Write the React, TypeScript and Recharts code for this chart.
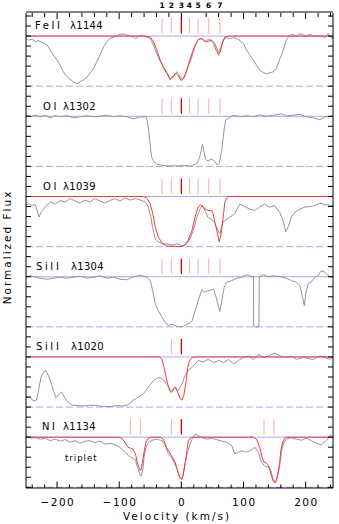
import { ComposedChart, Line, XAxis, YAxis, ReferenceLine } from "recharts";

// velocity components (km/s) and their labels on the top axis
const COMP_VEL = [-31, -16, 0, 13, 27, 44, 62];
const COMP_LABELS = ["1", "2", "3", "4", "5", "6", "7"];
const SI1020_MARKS = [-16, 0];
const NI_MARKS = [-82, -66, -16, 0, 133, 149];

const PANEL_IONS = ["FeII", "OI", "OI", "SiII", "SiII", "NI"];
const PANEL_LINES = ["λ1144", "λ1302", "λ1039", "λ1304", "λ1020", "λ1134"];

const X_MAJOR = [-200, -100, 0, 100, 200];
const X_TICKS = [-240, -220, -200, -180, -160, -140, -120, -100, -80, -60, -40, -20, 0, 20, 40, 60, 80, 100, 120, 140, 160, 180, 200, 220, 240];
const X_TICKS_TOP = X_TICKS.filter((v) => v !== 20);

// [velocity, normalized flux]
const FE1144 = [
  [-250, 0.95], [-246, 0.92], [-240, 0.94], [-235, 0.89], [-230, 0.91], [-224, 0.87], [-216, 0.82], [-211, 0.72],
  [-206, 0.62], [-200, 0.52], [-195, 0.42], [-190, 0.29], [-184, 0.19], [-179, 0.14], [-174, 0.09], [-168, 0.05],
  [-163, 0.09], [-157, 0.13], [-152, 0.18], [-147, 0.26], [-141, 0.36], [-136, 0.49], [-131, 0.62], [-125, 0.79],
  [-120, 0.89], [-115, 0.95], [-107, 0.99], [-101, 1.03], [-93, 1.04], [-88, 1.02], [-80, 1.0], [-74, 0.95],
  [-66, 1.02], [-58, 0.99], [-50, 0.95], [-45, 0.82], [-40, 0.66], [-34, 0.49], [-29, 0.39], [-24, 0.29],
  [-18, 0.14], [-13, 0.21], [-7, 0.29], [1, 0.13], [6, 0.23], [11, 0.39], [17, 0.59], [22, 0.79], [27, 0.93],
  [33, 0.95], [38, 0.89], [43, 0.93], [49, 0.92], [54, 0.85], [60, 0.67], [65, 0.82], [70, 0.97], [78, 0.95],
  [84, 0.97], [92, 0.93], [100, 0.85], [105, 0.72], [110, 0.62], [116, 0.52], [121, 0.42], [126, 0.32],
  [132, 0.27], [137, 0.25], [143, 0.27], [148, 0.29], [153, 0.36], [159, 0.56], [164, 0.72], [169, 0.93],
  [175, 1.02], [180, 1.03], [185, 1.0], [191, 1.05], [199, 1.0], [207, 1.03], [215, 0.99], [223, 1.01],
  [231, 0.97], [236, 1.05], [242, 0.95], [244, 0.98],
];
const FE1144_FIT = [
  [-250, 1], [-60, 1], [-50, 0.98], [-45, 0.89], [-40, 0.74], [-34, 0.52], [-29, 0.37], [-23, 0.25], [-18, 0.13],
  [-14, 0.17], [-9, 0.26], [-5, 0.21], [0, 0.11], [4, 0.16], [8, 0.3], [12, 0.46], [17, 0.65], [22, 0.82],
  [27, 0.93], [32, 0.95], [36, 0.92], [40, 0.88], [44, 0.9], [48, 0.91], [52, 0.85], [56, 0.72], [60, 0.62],
  [63, 0.7], [66, 0.88], [70, 0.98], [75, 1], [244, 1],
];

const OI1302 = [
  [-250, 1.02], [-243, 1.0], [-235, 1.02], [-227, 0.99], [-219, 1.02], [-211, 0.97], [-203, 1.01], [-195, 0.99],
  [-184, 1.01], [-173, 0.97], [-163, 0.99], [-152, 1.01], [-141, 0.99], [-131, 1.0], [-120, 1.02], [-109, 0.99],
  [-99, 1.01], [-88, 0.99], [-77, 0.95], [-66, 0.99], [-57, 0.99], [-55, 0.92], [-52, 0.66], [-50, 0.39],
  [-48, 0.19], [-44, 0.09], [-40, 0.05], [-34, 0.03], [-23, 0.01], [-13, 0.01], [-2, 0.01], [9, 0.02], [14, 0],
  [19, 0.03], [25, 0.06], [29, 0.16], [32, 0.32], [34, 0.44], [36, 0.32], [39, 0.14], [43, 0.11], [49, 0.15],
  [54, 0.09], [58, 0.03], [61, 0.06], [65, 0.32], [68, 0.66], [71, 0.92], [76, 0.97], [84, 1.02], [94, 0.99],
  [105, 1.01], [116, 0.99], [126, 1.03], [137, 1.0], [148, 1.02], [161, 1.05], [169, 1.01], [180, 1.02],
  [191, 1.04], [201, 0.99], [212, 0.97], [223, 0.93], [231, 0.99], [244, 1.0],
];

const OI1039 = [
  [-250, 0.84], [-246, 0.85], [-240, 0.82], [-235, 0.84], [-232, 0.72], [-229, 0.59], [-226, 0.68], [-219, 0.79],
  [-211, 0.89], [-203, 0.85], [-195, 0.92], [-187, 0.89], [-179, 0.96], [-171, 0.91], [-163, 0.87], [-155, 0.93],
  [-147, 0.89], [-139, 0.96], [-131, 0.91], [-123, 0.87], [-115, 0.92], [-107, 0.96], [-99, 0.91], [-91, 0.97],
  [-82, 0.93], [-74, 0.96], [-66, 0.93], [-58, 0.89], [-53, 0.79], [-49, 0.59], [-46, 0.36], [-42, 0.16],
  [-37, 0.09], [-29, 0.06], [-21, 0.05], [-13, 0.03], [-7, 0.06], [-2, 0.03], [3, 0.01], [9, 0.06], [14, 0.16],
  [19, 0.32], [25, 0.59], [30, 0.75], [34, 0.82], [38, 0.72], [43, 0.58], [49, 0.54], [54, 0.46], [59, 0.32],
  [62, 0.26], [66, 0.46], [70, 0.52], [78, 0.59], [86, 0.66], [94, 0.85], [102, 0.8], [110, 0.75], [118, 0.72],
  [126, 0.79], [134, 0.85], [142, 0.79], [150, 0.82], [158, 0.69], [164, 0.51], [168, 0.3], [172, 0.4],
  [177, 0.59], [183, 0.69], [191, 0.75], [199, 0.79], [207, 0.8], [215, 0.82], [223, 0.87], [231, 0.84],
  [239, 0.82], [244, 0.82],
];
const OI1039_FIT = [
  [-250, 1], [-61, 1], [-56, 0.97], [-50, 0.85], [-46, 0.66], [-42, 0.39], [-37, 0.19], [-31, 0.07], [-23, 0.01],
  [-2, 0], [6, 0.03], [11, 0.13], [17, 0.32], [22, 0.59], [27, 0.79], [31, 0.84], [36, 0.77], [43, 0.72],
  [49, 0.72], [51, 0.66], [57, 0.32], [61, 0.09], [64, 0.26], [68, 0.66], [70, 0.89], [74, 0.99], [78, 1], [244, 1],
];

const SI1304 = [
  [-250, 1.0], [-243, 1.02], [-235, 0.99], [-227, 0.97], [-216, 0.95], [-206, 0.97], [-195, 0.99], [-184, 0.97],
  [-174, 0.99], [-163, 1.01], [-152, 0.97], [-141, 0.99], [-131, 1.02], [-120, 0.97], [-109, 0.99], [-99, 0.95],
  [-88, 0.94], [-77, 1.0], [-66, 1.03], [-56, 0.99], [-50, 0.92], [-46, 0.72], [-42, 0.46], [-37, 0.32],
  [-32, 0.21], [-26, 0.09], [-21, 0.03], [-15, 0.05], [-7, 0.01], [1, 0], [6, 0.03], [11, 0.06], [17, 0.11],
  [22, 0.32], [27, 0.52], [33, 0.74], [38, 0.69], [43, 0.72], [52, 0.75], [56, 0.59], [60, 0.39], [62, 0.31],
  [65, 0.52], [69, 0.79], [73, 0.89], [81, 0.92], [89, 0.97], [97, 0.99], [105, 1.04], [113, 1.0], [116, 1.0],
  [116.3, 0], [124.8, 0], [125.3, 1.0], [132, 1.04], [140, 1.0], [148, 1.02], [159, 1.0], [169, 0.97],
  [177, 0.92], [185, 0.89], [191, 0.82], [195, 0.59], [198, 0.42], [200, 0.66], [204, 0.85], [209, 0.9],
  [215, 0.99], [220, 1.02], [225, 1.12], [231, 1.09], [236, 1.02], [244, 0.99],
];

const SI1020 = [
  [-250, 0.2], [-243, 0.19], [-238, 0.12], [-233, 0.14], [-230, 0.33], [-226, 0.59], [-222, 0.69], [-218, 0.73],
  [-214, 0.63], [-210, 0.5], [-206, 0.33], [-202, 0.19], [-198, 0.24], [-193, 0.3], [-190, 0.24], [-185, 0.14],
  [-182, 0.1], [-176, 0.04], [-168, 0.03], [-157, 0.02], [-147, 0.04], [-136, 0.03], [-125, 0.01], [-115, 0.01],
  [-104, 0.03], [-93, 0.02], [-85, 0.05], [-77, 0.14], [-69, 0.2], [-61, 0.27], [-53, 0.4], [-45, 0.53],
  [-37, 0.59], [-32, 0.58], [-26, 0.5], [-21, 0.4], [-16, 0.32], [-10, 0.4], [-5, 0.33], [1, 0.46], [6, 0.63],
  [11, 0.73], [17, 0.79], [22, 0.86], [27, 0.93], [35, 0.9], [43, 0.95], [52, 0.89], [60, 0.93], [68, 0.89],
  [76, 0.95], [84, 0.86], [92, 0.93], [100, 0.99], [108, 1.02], [116, 0.95], [124, 1.05], [132, 0.99],
  [140, 1.02], [150, 1.08], [159, 1.02], [169, 0.99], [177, 1.02], [185, 0.95], [196, 0.99], [204, 0.97],
  [212, 0.95], [223, 1.02], [231, 0.99], [239, 0.95], [244, 1.0],
];
const SI1020_FIT = [
  [-250, 1], [-35, 1], [-31, 0.95], [-28, 0.79], [-24, 0.56], [-19, 0.33], [-16, 0.29], [-10, 0.4], [-6, 0.3],
  [-2, 0.17], [1, 0.14], [4, 0.24], [8, 0.53], [10, 0.79], [13, 0.92], [17, 0.99], [22, 1], [244, 1],
];

const NI1134 = [
  [-250, 1.03], [-243, 0.98], [-235, 0.99], [-227, 0.96], [-219, 0.98], [-211, 0.93], [-203, 0.96], [-195, 0.92],
  [-187, 0.95], [-179, 0.9], [-171, 0.93], [-163, 0.88], [-155, 0.92], [-147, 0.93], [-139, 0.89], [-131, 0.92],
  [-123, 0.86], [-115, 0.88], [-107, 0.85], [-99, 0.8], [-91, 0.7], [-85, 0.63], [-80, 0.59], [-74, 0.55],
  [-71, 0.41], [-67, 0.27], [-65, 0.22], [-62, 0.34], [-60, 0.6], [-57, 0.79], [-53, 0.9], [-48, 0.93],
  [-42, 0.96], [-37, 0.95], [-31, 0.93], [-26, 0.83], [-21, 0.67], [-16, 0.6], [-12, 0.5], [-7, 0.37],
  [-3, 0.21], [0, 0.16], [2, 0.21], [6, 0.47], [10, 0.7], [14, 0.86], [18, 0.99], [22, 1.06], [27, 1.03],
  [33, 0.99], [41, 0.96], [49, 0.98], [57, 0.95], [65, 0.92], [73, 0.9], [81, 0.83], [86, 0.67], [92, 0.7],
  [97, 0.73], [105, 0.7], [113, 0.75], [118, 0.8], [124, 0.7], [129, 0.5], [135, 0.41], [140, 0.41],
  [144, 0.34], [147, 0.18], [151, 0.11], [153, 0.14], [158, 0.41], [161, 0.7], [165, 0.9], [169, 0.96],
  [177, 0.99], [185, 0.96], [193, 0.94], [201, 0.98], [209, 0.93], [217, 0.88], [225, 0.85], [234, 0.94],
  [240, 1.05], [244, 0.99],
];
const NI1134_FIT = [
  [-250, 1], [-101, 1], [-96, 0.98], [-91, 0.9], [-86, 0.8], [-82, 0.78], [-78, 0.76], [-74, 0.67], [-71, 0.5],
  [-67, 0.35], [-65, 0.34], [-63, 0.47], [-60, 0.7], [-57, 0.9], [-53, 0.98], [-47, 1], [-34, 1], [-29, 0.96],
  [-24, 0.8], [-18, 0.67], [-14, 0.59], [-10, 0.5], [-6, 0.33], [-2, 0.18], [1, 0.16], [3, 0.24], [6, 0.47],
  [9, 0.73], [11, 0.92], [15, 0.99], [19, 1], [116, 1], [121, 0.96], [126, 0.8], [130, 0.6], [133, 0.5],
  [137, 0.48], [140, 0.44], [144, 0.27], [148, 0.12], [151, 0.09], [154, 0.18], [158, 0.47], [160, 0.73],
  [163, 0.9], [167, 0.99], [170, 1], [244, 1],
];

const SPECTRA = [FE1144, OI1302, OI1039, SI1304, SI1020, NI1134];
const FITS = [FE1144_FIT, null, OI1039_FIT, null, SI1020_FIT, NI1134_FIT];
const MARKS = [COMP_VEL, COMP_VEL, COMP_VEL, COMP_VEL, SI1020_MARKS, NI_MARKS];

// layout
const W = 339;
const H = 524;
const X_DOMAIN: [number, number] = [-250, 244];
const Y_DOMAIN: [number, number] = [-0.014, 9.46];
const PLOT = { left: 26, right: 333, top: 13, bottom: 488 };
const PANEL_STEP = 1.6;
const LABEL_X = [[35, 70], [43, 63], [43, 63], [36, 71], [36, 71], [42, 63]];
const Y_TICKS = Array.from({ length: 48 }, (_, k) => Math.round(k * 2) / 10);

const FONT = "DejaVu Sans";
const GRAY = "#959595";
const RED = "#f23c3c";
const BLUE = "#a3a8ff";
const PINK = "#ffaaaa";
const DARKRED = "#d80000";

const offsetOf = (i: number) => 8 - PANEL_STEP * i;
const yPx = (val: number) =>
  PLOT.top + ((Y_DOMAIN[1] - val) / (Y_DOMAIN[1] - Y_DOMAIN[0])) * (PLOT.bottom - PLOT.top);
const shift = (pts: number[][], off: number) => pts.map(([v, f]) => ({ v, y: f + off }));
const flat = (off: number) => [{ v: X_DOMAIN[0], y: off }, { v: X_DOMAIN[1], y: off }];
const fmtVel = (v: number) => (v < 0 ? `\u2212${-v}` : `${v}`);

const lineProps = {
  xAxisId: "v",
  yAxisId: "f",
  dataKey: "y",
  dot: false,
  activeDot: false,
  isAnimationActive: false,
  strokeWidth: 1,
  type: "linear" as const,
};

// tick renderers: inward tick marks, labels only where the reference has them
const BottomTick = (props: any) => {
  const { x, payload } = props;
  const major = X_MAJOR.includes(payload.value);
  return (
    <g>
      <line x1={x} x2={x} y1={PLOT.bottom} y2={PLOT.bottom - (major ? 6.5 : 3.5)} stroke="#000" />
      {major ? (
        <text x={x + 0.8} y={505.5} textAnchor="middle" fontSize={10.5} fontFamily={FONT} letterSpacing={1.5} fill="#000">
          {fmtVel(payload.value)}
        </text>
      ) : null}
    </g>
  );
};

const TopTick = (props: any) => {
  const { x, payload } = props;
  const major = X_MAJOR.includes(payload.value);
  return <line x1={x} x2={x} y1={PLOT.top} y2={PLOT.top + (major ? 6 : 4)} stroke="#000" />;
};

const CompTick = (props: any) => {
  const { x, payload } = props;
  return (
    <text x={x} y={7.5} textAnchor="middle" fontSize={7.5} fontWeight="bold" fontFamily={FONT} fill="#000">
      {COMP_LABELS[COMP_VEL.indexOf(payload.value)]}
    </text>
  );
};

const LeftTick = (props: any) => <line x1={PLOT.left} x2={PLOT.left + 5} y1={props.y} y2={props.y} stroke="#000" />;
const RightTick = (props: any) => <line x1={PLOT.right - 5} x2={PLOT.right} y1={props.y} y2={props.y} stroke="#000" />;

export default function App() {
  return (
    <div style={{ position: "absolute", left: 0, top: 0, width: W, height: H, background: "#fff" }}>
      <ComposedChart
        width={W}
        height={H}
        data={shift(FE1144, offsetOf(0))}
        margin={{ top: PLOT.top - 2, right: W - PLOT.right - 1, bottom: 0, left: PLOT.left - 1 }}
      >
        <XAxis
          xAxisId="v"
          dataKey="v"
          type="number"
          orientation="bottom"
          domain={X_DOMAIN}
          allowDataOverflow
          ticks={X_TICKS}
          interval={0}
          tickLine={false}
          tick={BottomTick}
          height={H - PLOT.bottom}
          stroke="#000"
        />
        <XAxis
          xAxisId="top"
          dataKey="v"
          type="number"
          orientation="top"
          domain={X_DOMAIN}
          allowDataOverflow
          ticks={X_TICKS_TOP}
          interval={0}
          tickLine={false}
          tick={TopTick}
          height={1}
          stroke="#000"
        />
        <XAxis
          xAxisId="comp"
          dataKey="v"
          type="number"
          orientation="top"
          domain={X_DOMAIN}
          allowDataOverflow
          ticks={COMP_VEL}
          interval={0}
          tickLine={false}
          axisLine={false}
          tick={CompTick}
          height={1}
        />
        <YAxis
          yAxisId="f"
          dataKey="y"
          type="number"
          orientation="left"
          domain={Y_DOMAIN}
          allowDataOverflow
          ticks={Y_TICKS}
          interval={0}
          tickLine={false}
          tick={LeftTick}
          width={1}
          stroke="#000"
        />
        <YAxis
          yAxisId="fr"
          dataKey="y"
          type="number"
          orientation="right"
          domain={Y_DOMAIN}
          allowDataOverflow
          ticks={Y_TICKS}
          interval={0}
          tickLine={false}
          tick={RightTick}
          width={1}
          stroke="#000"
        />

        {SPECTRA.map((spec, i) => {
          const off = offsetOf(i);
          const fit = FITS[i];
          return [
            <Line key={`cont${i}`} {...lineProps} data={flat(off + 1)} stroke={BLUE} />,
            <Line key={`zero${i}`} {...lineProps} data={flat(off)} stroke={BLUE} strokeDasharray="7 3" />,
            <Line key={`spec${i}`} {...lineProps} data={shift(spec, off)} stroke={GRAY} />,
            fit ? <Line key={`fit${i}`} {...lineProps} data={shift(fit, off)} stroke={RED} /> : null,
            ...MARKS[i].map((v) => (
              <ReferenceLine
                key={`m${i}_${v}`}
                xAxisId="v"
                yAxisId="f"
                segment={[
                  { x: v, y: off + 1.05 },
                  { x: v, y: off + 1.36 },
                ]}
                stroke={v === 0 ? DARKRED : PINK}
                strokeWidth={v === 0 ? 1.3 : 1}
              />
            )),
          ];
        })}
      </ComposedChart>

      <svg
        width={W}
        height={H}
        style={{ position: "absolute", left: 0, top: 0, pointerEvents: "none" }}
        fontFamily={FONT}
      >
        {PANEL_IONS.map((ion, i) => {
          const base = yPx(offsetOf(i) + 1) - 6.7;
          return (
            <g key={`lab${i}`}>
              <text x={LABEL_X[i][0]} y={base} fontSize={10} letterSpacing={2.6} fill="#000">
                {ion}
              </text>
              <text x={LABEL_X[i][1]} y={base} fontSize={10} letterSpacing={0.3} fill="#000">
                {PANEL_LINES[i]}
              </text>
            </g>
          );
        })}
        <text x={65} y={461} fontSize={8.5} letterSpacing={1} fill="#000">
          triplet
        </text>
        <text x={123} y={519.5} fontSize={10.5} letterSpacing={2} fill="#000">
          Velocity (km/s)
        </text>
        <text
          x={11}
          y={247}
          fontSize={10.5}
          letterSpacing={2}
          fill="#000"
          textAnchor="middle"
          transform="rotate(-90 11 247)"
        >
          Normalized Flux
        </text>
      </svg>
    </div>
  );
}
